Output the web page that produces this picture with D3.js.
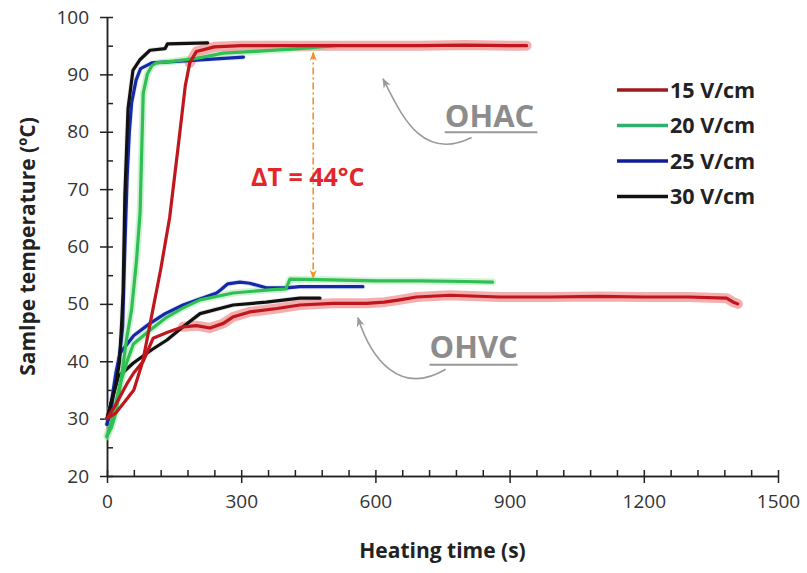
<!DOCTYPE html>
<meta charset="utf-8">
<style>
body { margin: 0; background: #fff; }
.axis .tick text { font-family: "Open Sans", sans-serif; font-size: 19px; fill: #333; }
.axis path, .axis line { stroke: #222; stroke-width: 1.5px; }
.title { font-family: "Open Sans", sans-serif; font-weight: bold; font-size: 21px; fill: #222; }
.line { fill: none; stroke-width: 3.2px; stroke-linejoin: round; stroke-linecap: round; }
.halo { fill: none; stroke-linejoin: round; stroke-linecap: round; }
.legend text { font-family: "Open Sans", sans-serif; font-weight: bold; font-size: 21.5px; fill: #222; }
</style>
<body>
<script src="https://d3js.org/d3.v7.min.js"></script>
<script>

// ---- data ----
// OHAC = upper curves, OHVC = lower curves
var time15a = [0, 20, 40, 60, 80, 100, 120, 140, 160, 175, 185, 200, 240, 300, 400, 500, 600, 700, 800, 900, 938];
var temp15a = [30, 31, 33, 35, 40, 48, 56, 65, 78, 88, 92, 94, 94.8, 95, 95, 95, 95, 95, 95.1, 95, 95];
var time20a = [0, 10, 20, 30, 44, 55, 66, 74, 77, 81, 90, 100, 110, 150, 200, 260, 330, 430, 510];
var temp20a = [27, 28.5, 31, 36, 44, 49, 57.6, 66, 75, 86.7, 90, 91.5, 92, 92.3, 92.8, 93.7, 94, 94.5, 95];
var time25a = [0, 10, 20, 28, 35, 40, 45, 50, 55, 65, 75, 100, 200, 305];
var temp25a = [29, 32, 37, 41, 46, 60, 72, 80, 85, 89, 91, 92, 92.5, 93];
var time30a = [0, 10, 20, 28, 33, 36, 40, 47, 58, 73, 96, 130, 135, 225];
var temp30a = [30, 33, 36, 40, 47, 52, 69, 84, 90.7, 92.5, 94.2, 94.5, 95.3, 95.5];

var time15v = [0, 20, 44, 60, 81, 103, 134, 170, 200, 230, 260, 281, 319, 380, 431, 505, 580, 620, 654, 692, 766, 877, 989, 1100, 1200, 1300, 1385, 1400, 1410];
var temp15v = [30, 32.5, 36, 38, 40, 44, 45, 46, 46.2, 45.8, 46.6, 47.7, 48.6, 49.2, 49.8, 50.1, 50.1, 50.3, 50.7, 51.2, 51.5, 51.2, 51.2, 51.3, 51.2, 51.2, 51, 50.3, 50];
var time20v = [0, 15, 29, 45, 59, 96, 134, 170, 208, 282, 356, 400, 409, 500, 600, 700, 800, 862];
var temp20v = [26.8, 31, 36, 40, 43, 45.4, 47.7, 49.3, 50.7, 51.9, 52.4, 52.6, 54.3, 54.2, 54, 54, 53.9, 53.8];
var time25v = [0, 10, 20, 29, 60, 96, 130, 170, 245, 255, 270, 297, 319, 356, 401, 431, 572];
var temp25v = [29, 33, 38, 41.4, 44.5, 46.6, 48.3, 49.8, 51.9, 52.5, 53.5, 53.8, 53.6, 52.8, 52.8, 53, 53];
var time30v = [0, 13, 25, 59, 100, 134, 170, 208, 282, 356, 431, 476];
var temp30v = [30, 33.8, 37.3, 39.7, 42, 43.7, 46, 48.3, 49.8, 50.3, 51, 51];

var seriesNames = ["15 V/cm", "20 V/cm", "25 V/cm", "30 V/cm"];
var xTicks = [0, 300, 600, 900, 1200, 1500];
var yTicks = [20, 30, 40, 50, 60, 70, 80, 90, 100];

// ---- layout ----
var width = 807, height = 573;
var margin = {top: 17, right: 29, bottom: 97, left: 107};

var x = d3.scaleLinear().domain([0, 1500]).range([margin.left, width - margin.right]);
var y = d3.scaleLinear().domain([20, 100]).range([height - margin.bottom, margin.top]);

var svg = d3.select("body").append("svg")
    .attr("width", width)
    .attr("height", height);

var defs = svg.append("defs");
defs.append("marker").attr("id", "orangeHead")
    .attr("viewBox", "0 0 10 10").attr("refX", 9).attr("refY", 5)
    .attr("markerWidth", 9).attr("markerHeight", 9).attr("orient", "auto-start-reverse")
    .attr("markerUnits", "userSpaceOnUse")
  .append("path").attr("d", "M0,1 L10,5 L0,9 L3,5 Z").attr("fill", "#f0902c");
defs.append("marker").attr("id", "grayHead")
    .attr("viewBox", "0 0 10 10").attr("refX", 9).attr("refY", 5)
    .attr("markerWidth", 10).attr("markerHeight", 10).attr("orient", "auto")
    .attr("markerUnits", "userSpaceOnUse")
  .append("path").attr("d", "M0,1 L10,5 L0,9 L3,5 Z").attr("fill", "#9a9a9a");

// ---- axes ----
svg.append("g").attr("class", "axis")
    .attr("transform", "translate(0," + y(20) + ")")
    .call(d3.axisBottom(x).tickValues(xTicks).tickFormat(d3.format("d"))
      .tickSize(7).tickSizeOuter(0).tickPadding(12));
svg.append("g").attr("class", "axis")
    .attr("transform", "translate(0," + y(20) + ")")
    .call(d3.axisTop(x).tickValues(d3.range(0, 1501, 60)).tickSize(6).tickSizeOuter(0).tickFormat(""));

svg.append("g").attr("class", "axis")
    .attr("transform", "translate(" + x(0) + ",0)")
    .call(d3.axisLeft(y).tickValues(yTicks).tickSize(7).tickSizeOuter(0).tickPadding(11));
svg.append("g").attr("class", "axis")
    .attr("transform", "translate(" + x(0) + ",0)")
    .call(d3.axisRight(y).tickValues(d3.range(20, 101, 5)).tickSize(6).tickSizeOuter(0).tickFormat(""));

svg.append("text").attr("class", "title")
    .attr("x", (x(0) + x(1500)) / 2).attr("y", 558)
    .attr("text-anchor", "middle")
    .text("Heating time (s)");
svg.append("text").attr("class", "title")
    .attr("transform", "translate(35," + y(60) + ") rotate(-90)")
    .attr("text-anchor", "middle")
    .text("Samlpe temperature (ºC)");

// ---- curves ----
var colors = ["#c0161e", "#2fbf55", "#1428a8", "#111111"];
var haloColors = ["#f19a9a", "#a6e6ac", "#a8b4ee", "#bbbbbb"];

// haloFrom: time from which the noisy light band shows behind the line
var curves = [
  {s: 2, t: time25a, v: temp25a, haloFrom: 0}, {s: 2, t: time25v, v: temp25v, haloFrom: 0},
  {s: 3, t: time30a, v: temp30a, haloFrom: 0}, {s: 3, t: time30v, v: temp30v, haloFrom: 0},
  {s: 1, t: time20a, v: temp20a, haloFrom: 0}, {s: 1, t: time20v, v: temp20v, haloFrom: 0},
  {s: 0, t: time15a, v: temp15a, haloFrom: 185}, {s: 0, t: time15v, v: temp15v, haloFrom: 170}
];

var line = d3.line()
    .x(function(d) { return x(d[0]); })
    .y(function(d) { return y(d[1]); });

curves.forEach(function(c) {
  c.points = c.t.map(function(t, i) { return [t, c.v[i]]; });
});

svg.append("g").selectAll("path")
    .data(curves).enter().append("path")
    .attr("class", "halo")
    .attr("stroke", function(d) { return haloColors[d.s]; })
    .attr("stroke-opacity", function(d) { return d.s == 0 ? 0.8 : (d.s == 1 ? 0.5 : 0.3); })
    .attr("stroke-width", function(d) { return d.s == 0 ? 10 : (d.s == 1 ? 7 : 5); })
    .attr("d", function(d) {
      return line(d.points.filter(function(p) { return p[0] >= d.haloFrom; }));
    });

svg.append("g").selectAll("path")
    .data(curves).enter().append("path")
    .attr("class", "line")
    .attr("stroke", function(d) { return colors[d.s]; })
    .attr("d", function(d) { return line(d.points); });

// ---- annotations ----
svg.append("line")
    .attr("x1", x(461)).attr("x2", x(461))
    .attr("y1", y(93.8)).attr("y2", y(54.5))
    .attr("stroke", "#f0902c").attr("stroke-width", 1.6)
    .attr("stroke-dasharray", "7,3,2,3")
    .attr("marker-start", "url(#orangeHead)")
    .attr("marker-end", "url(#orangeHead)");

svg.append("text")
    .attr("x", x(322)).attr("y", y(70.6))
    .attr("font-family", "Open Sans, sans-serif").attr("font-weight", "bold")
    .attr("font-size", 25).attr("fill", "#e3262b")
    .text("ΔT = 44°C");

var labels = [
  {text: "OHAC", t: 755, v: 80.8, t2: 962, ul: 79.9,
   arrow: [[815, 79.0], [699, 74.5], [654, 83.8], [617, 89.2]]},
  {text: "OHVC", t: 721, v: 40.6, t2: 918, ul: 39.4,
   arrow: [[757, 38.6], [654, 33.8], [590, 40.5], [561, 47.6]]}
];

labels.forEach(function(l) {
  svg.append("text")
      .attr("x", x(l.t)).attr("y", y(l.v))
      .attr("font-family", "Open Sans, sans-serif").attr("font-weight", "bold")
      .attr("font-size", 31).attr("fill", "#8c8c8c")
      .text(l.text);
  svg.append("line")
      .attr("x1", x(l.t)).attr("x2", x(l.t2))
      .attr("y1", y(l.ul)).attr("y2", y(l.ul))
      .attr("stroke", "#999").attr("stroke-width", 2);
  var p = l.arrow.map(function(a) { return [x(a[0]), y(a[1])]; });
  svg.append("path")
      .attr("d", "M" + p[0] + "C" + p[1] + " " + p[2] + " " + p[3])
      .attr("fill", "none").attr("stroke", "#9a9a9a").attr("stroke-width", 1.6)
      .attr("marker-end", "url(#grayHead)");
});

// ---- legend ----
var legendColors = ["#9e1a20", "#2db070", "#101c98", "#111111"];
var legend = svg.append("g").attr("class", "legend")
    .attr("transform", "translate(617,90)");
var rows = legend.selectAll("g").data(seriesNames).enter().append("g")
    .attr("transform", function(d, i) { return "translate(0," + (i * 35.5) + ")"; });
rows.append("line")
    .attr("x1", 0).attr("x2", 51).attr("y1", 0).attr("y2", 0)
    .attr("stroke", function(d, i) { return legendColors[i]; })
    .attr("stroke-width", 3.5);
rows.append("text")
    .attr("x", 53).attr("y", 7.5)
    .text(function(d) { return d; });

</script>
</body>
